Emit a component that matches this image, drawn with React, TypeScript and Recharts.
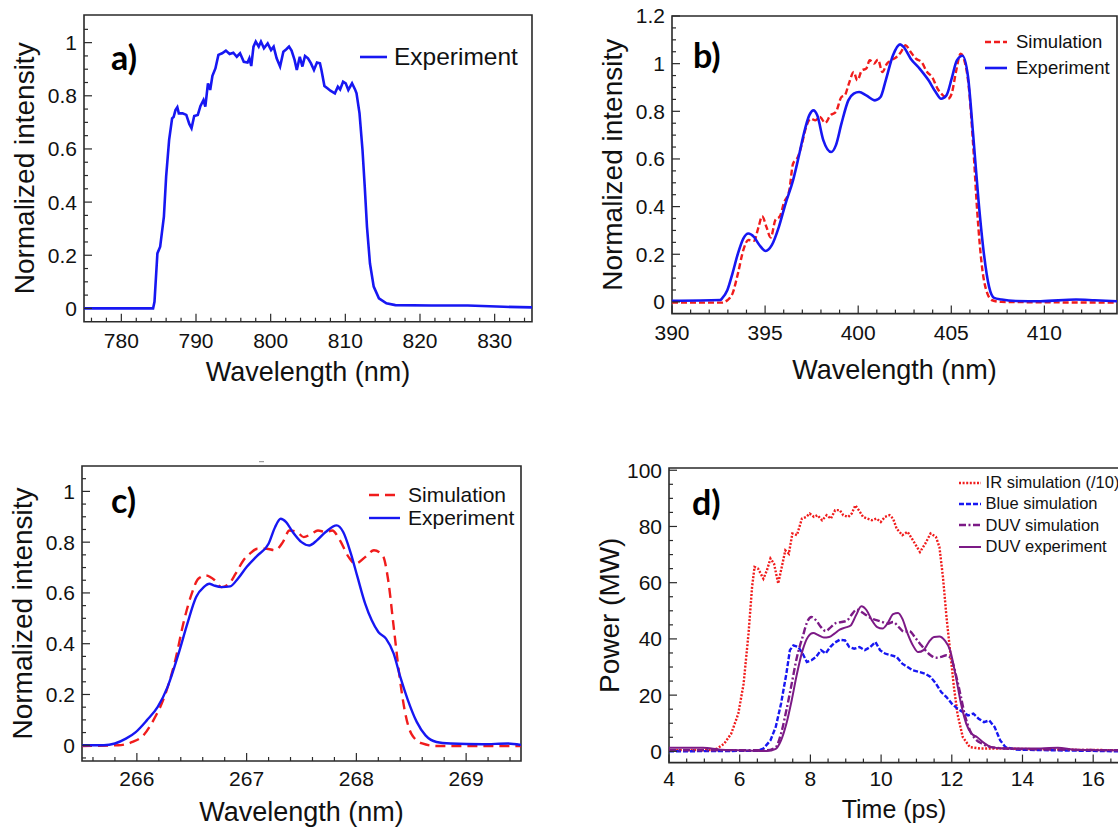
import React from "react";
import { LineChart, Line, XAxis, YAxis, ReferenceArea, Legend } from "recharts";

const FONT = '"Liberation Sans", Arial, Helvetica, sans-serif';
const INK = "#111";
const FRAME = "#2a2a2a";

const RED = "#f01c1c";
const BLUE = "#1717f2";
const PURPLE = "#7c1a86";

// ---- panel a: fundamental IR spectrum ----
const aWavelength = [775, 784.25, 784.44, 784.83, 785.2, 785.7, 786.0, 786.4, 786.8, 787.0, 787.25, 787.5, 787.7, 788.2, 788.7, 789.1, 789.4, 789.76, 790.24, 790.6, 791.0, 791.25, 791.6, 791.9, 792.2, 792.6, 793.0, 793.5, 794.0, 794.5, 795.0, 795.46, 795.9, 796.4, 796.9, 797.15, 797.4, 797.7, 798.0, 798.4, 798.7, 799.1, 799.6, 800.05, 800.4, 800.8, 801.26, 801.7, 802.1, 802.46, 802.8, 803.2, 803.5, 803.9, 804.25, 804.6, 805.0, 805.4, 805.8, 806.2, 806.6, 806.8, 807.2, 807.6, 808.0, 808.6, 809.0, 809.3, 809.7, 810.05, 810.4, 810.9, 811.3, 811.5, 811.9, 812.3, 812.6, 812.9, 813.3, 813.8, 814.5, 815.5, 816.7, 821.5, 826.4, 831.2, 835];
const aExperiment = [0, 0, 0.025, 0.207, 0.232, 0.345, 0.496, 0.634, 0.715, 0.72, 0.746, 0.757, 0.734, 0.734, 0.728, 0.694, 0.678, 0.724, 0.728, 0.762, 0.784, 0.759, 0.847, 0.822, 0.875, 0.903, 0.954, 0.96, 0.97, 0.957, 0.962, 0.947, 0.96, 0.928, 0.925, 0.941, 0.912, 0.985, 1.004, 0.985, 1.004, 0.979, 0.997, 0.972, 0.985, 0.941, 0.91, 0.966, 0.975, 0.985, 0.97, 0.935, 0.897, 0.947, 0.91, 0.95, 0.941, 0.922, 0.897, 0.925, 0.922, 0.897, 0.837, 0.828, 0.819, 0.809, 0.834, 0.824, 0.853, 0.847, 0.822, 0.847, 0.824, 0.809, 0.734, 0.596, 0.458, 0.307, 0.169, 0.082, 0.038, 0.019, 0.0125, 0.011, 0.011, 0.006, 0.004];

// ---- panel b: blue (SHG) spectrum ----
const bExpWavelength = [390, 392.6, 392.68, 392.97, 393.25, 393.54, 393.83, 394.1, 394.4, 394.7, 395.03, 395.36, 395.74, 396.1, 396.5, 396.8, 397.08, 397.37, 397.6, 397.8, 398.13, 398.55, 398.8, 399.1, 399.47, 399.76, 400.05, 400.43, 400.9, 401.2, 401.48, 401.87, 402.25, 402.44, 402.82, 403.3, 403.78, 404.16, 404.45, 404.74, 405.02, 405.3, 405.6, 405.9, 406.17, 406.46, 406.75, 407.03, 407.3, 407.7, 408.47, 409.8, 411.7, 412.7, 413.9];
const bExperiment = [0.005, 0.008, 0.014, 0.049, 0.12, 0.203, 0.266, 0.287, 0.273, 0.238, 0.214, 0.238, 0.315, 0.413, 0.51, 0.608, 0.706, 0.783, 0.804, 0.783, 0.678, 0.629, 0.657, 0.748, 0.846, 0.874, 0.881, 0.867, 0.846, 0.86, 0.93, 1.035, 1.081, 1.07, 1.021, 0.979, 0.93, 0.881, 0.853, 0.867, 0.937, 1.014, 1.033, 0.944, 0.706, 0.427, 0.203, 0.063, 0.017, 0.01, 0.004, 0.003, 0.01, 0.007, 0.003];
const bSimWavelength = [390, 392.7, 392.97, 393.25, 393.54, 393.83, 394.1, 394.4, 394.65, 394.84, 395.07, 395.3, 395.55, 395.8, 396.0, 396.3, 396.5, 396.76, 396.98, 397.2, 397.46, 397.7, 397.94, 398.23, 398.5, 398.8, 399.1, 399.28, 399.5, 399.76, 399.95, 400.2, 400.43, 400.62, 400.85, 401.06, 401.3, 401.54, 401.77, 402.06, 402.3, 402.54, 402.82, 403.1, 403.4, 403.7, 403.97, 404.26, 404.55, 404.83, 405.02, 405.25, 405.5, 405.7, 405.94, 406.17, 406.4, 406.65, 406.94, 407.2, 407.7, 413.9];
const bSimulation = [-0.003, -0.003, 0.007, 0.035, 0.119, 0.217, 0.26, 0.256, 0.315, 0.36, 0.315, 0.27, 0.343, 0.36, 0.413, 0.469, 0.58, 0.608, 0.664, 0.734, 0.769, 0.762, 0.776, 0.751, 0.783, 0.797, 0.86, 0.867, 0.916, 0.965, 0.93, 0.972, 0.979, 1.014, 1.0, 1.017, 0.965, 1.0, 1.014, 1.028, 1.049, 1.077, 1.049, 1.021, 1.007, 0.965, 0.944, 0.895, 0.867, 0.853, 0.874, 0.965, 1.042, 1.014, 0.902, 0.664, 0.371, 0.147, 0.035, 0.007, 0, -0.003];

// ---- panel c: DUV spectrum ----
const cExpWavelength = [265.5, 265.7, 265.8, 265.9, 265.99, 266.09, 266.19, 266.28, 266.38, 266.46, 266.54, 266.61, 266.66, 266.7, 266.77, 266.85, 266.92, 267.0, 267.1, 267.2, 267.26, 267.31, 267.36, 267.42, 267.5, 267.57, 267.64, 267.72, 267.82, 267.88, 267.95, 268.01, 268.08, 268.14, 268.2, 268.27, 268.34, 268.4, 268.47, 268.55, 268.63, 268.73, 268.86, 269.15, 269.38, 269.5];
const cExperiment = [0, 0, 0.007, 0.026, 0.052, 0.098, 0.151, 0.23, 0.361, 0.479, 0.584, 0.623, 0.636, 0.63, 0.623, 0.626, 0.656, 0.702, 0.748, 0.794, 0.86, 0.892, 0.879, 0.84, 0.8, 0.787, 0.807, 0.84, 0.866, 0.84, 0.755, 0.663, 0.558, 0.492, 0.446, 0.42, 0.361, 0.269, 0.177, 0.092, 0.039, 0.013, 0.007, 0.004, 0.007, 0.001];
const cSimWavelength = [265.5, 265.83, 265.96, 266.06, 266.15, 266.25, 266.35, 266.43, 266.5, 266.56, 266.63, 266.71, 266.77, 266.84, 266.9, 266.97, 267.03, 267.1, 267.18, 267.26, 267.33, 267.39, 267.46, 267.52, 267.59, 267.65, 267.72, 267.78, 267.85, 267.93, 267.99, 268.08, 268.16, 268.24, 268.29, 268.34, 268.39, 268.44, 268.5, 268.6, 268.73, 269.5];
const cSimulation = [-0.003, 0, 0.013, 0.039, 0.098, 0.19, 0.335, 0.492, 0.597, 0.656, 0.669, 0.65, 0.623, 0.636, 0.676, 0.728, 0.755, 0.774, 0.774, 0.768, 0.8, 0.846, 0.84, 0.82, 0.833, 0.846, 0.84, 0.846, 0.807, 0.741, 0.715, 0.741, 0.768, 0.748, 0.65, 0.466, 0.282, 0.138, 0.046, 0.007, -0.003, -0.003];

// ---- panel d: temporal power ----
const dIrTime = [4, 5.2, 5.36, 5.56, 5.76, 5.96, 6.11, 6.25, 6.35, 6.42, 6.52, 6.67, 6.77, 6.87, 6.97, 7.09, 7.19, 7.29, 7.39, 7.49, 7.62, 7.76, 7.88, 7.98, 8.1, 8.2, 8.33, 8.46, 8.58, 8.7, 8.83, 8.93, 9.07, 9.17, 9.27, 9.37, 9.49, 9.61, 9.74, 9.87, 9.99, 10.11, 10.24, 10.34, 10.44, 10.6, 10.75, 10.9, 11.1, 11.25, 11.4, 11.55, 11.65, 11.75, 11.85, 11.96, 12.06, 12.16, 12.31, 12.51, 12.81, 13.5, 15.0, 16.73];
const dIrPower = [0.4, 0.5, 1, 2.7, 6.3, 13.4, 24, 42, 58.5, 65.6, 65, 61.4, 64.4, 68.6, 66.8, 59.7, 65.6, 71.5, 70.3, 77.5, 76.9, 82.8, 83.4, 84.6, 83.4, 84, 82.2, 84, 82.8, 85.8, 85.8, 84, 83.4, 84.6, 87.5, 85.8, 83.4, 82.8, 82.2, 82.8, 81.6, 83.4, 84, 82.8, 79.2, 76.9, 78.1, 75.1, 70.9, 73.9, 77.5, 76.3, 72.7, 62, 47.8, 34.8, 22.9, 13.4, 5.1, 1.5, 1, 1, 0.6, 0.4];
const dBlueTime = [4, 6.5, 6.67, 6.87, 7.02, 7.17, 7.32, 7.42, 7.52, 7.66, 7.78, 7.9, 8.03, 8.16, 8.3, 8.43, 8.56, 8.68, 8.83, 8.98, 9.1, 9.24, 9.39, 9.54, 9.69, 9.84, 9.97, 10.11, 10.27, 10.44, 10.6, 10.75, 10.9, 11.1, 11.25, 11.4, 11.55, 11.7, 11.85, 12.0, 12.16, 12.31, 12.46, 12.61, 12.76, 12.91, 13.06, 13.21, 13.37, 13.52, 13.82, 16.73];
const dBluePower = [0, 0.2, 1, 3.9, 8.7, 17, 27.6, 36, 37.7, 37.1, 34.8, 31.8, 32.4, 33.6, 36, 34.8, 37.1, 38.6, 39.7, 39.5, 37.1, 36.5, 37.1, 36, 37.1, 38.9, 36, 34.8, 34.2, 33.6, 31.2, 30, 28.8, 28.2, 27.6, 26.5, 24.1, 21.1, 19.3, 17, 15.2, 14, 12.8, 13.4, 11.6, 10.4, 11, 8.7, 3.9, 1.5, 0.6, 0];
const dDuvSimTime = [4, 6.77, 7.02, 7.17, 7.32, 7.47, 7.62, 7.78, 7.93, 8.03, 8.16, 8.3, 8.43, 8.58, 8.73, 8.88, 9.04, 9.19, 9.3, 9.44, 9.59, 9.74, 9.89, 10.04, 10.19, 10.34, 10.5, 10.65, 10.8, 10.95, 11.1, 11.25, 11.4, 11.55, 11.7, 11.85, 12.0, 12.13, 12.26, 12.36, 12.51, 12.66, 12.86, 13.11, 13.52, 15.0, 16.73];
const dDuvSimPower = [0.4, 0.4, 1.5, 6.3, 14.6, 24, 33.6, 40.7, 46.6, 47.8, 46.6, 44.2, 42.8, 44.2, 45.7, 46, 46.6, 49, 50.4, 49.6, 48.4, 47.2, 46.6, 46, 45.4, 46, 44.2, 42.5, 42.8, 40.7, 38.3, 36, 34.2, 33.3, 33.6, 34.2, 32.4, 26.5, 19.3, 13.4, 7.5, 4.5, 2.7, 1.5, 1, 0.6, 0.4];
const dDuvExpTime = [4, 4.96, 5.46, 5.96, 6.77, 7.02, 7.17, 7.32, 7.47, 7.62, 7.78, 7.93, 8.08, 8.23, 8.38, 8.53, 8.68, 8.83, 8.98, 9.14, 9.29, 9.44, 9.59, 9.74, 9.89, 10.04, 10.19, 10.34, 10.48, 10.6, 10.75, 10.9, 11.05, 11.2, 11.35, 11.5, 11.65, 11.8, 11.95, 12.1, 12.26, 12.41, 12.56, 12.71, 12.91, 13.11, 13.52, 14.52, 15.0, 15.5, 16.73];
const dDuvExpPower = [1.3, 1.3, 0.6, 0.4, 0.1, 0.9, 3.9, 9.8, 18.1, 27.6, 36, 40.7, 42.1, 41.3, 40.5, 40.7, 41.9, 43.3, 44, 44.8, 48.4, 51.6, 50.2, 46.6, 44.2, 43.7, 45.7, 48.8, 49.2, 47.2, 41.9, 37.7, 35.3, 36, 38.9, 40.7, 40.9, 39.5, 36, 27.6, 17, 9.8, 6.3, 5.1, 3, 1.5, 1, 1, 1.3, 0.6, 0.4];

// tick labels
const aXTicks = [780, 790, 800, 810, 820, 830];
const aYTicks = [0, 0.2, 0.4, 0.6, 0.8, 1];
const bXTicks = [390, 395, 400, 405, 410];
const bYTicks = [0, 0.2, 0.4, 0.6, 0.8, 1, 1.2];
const cXTicks = [266, 267, 268, 269];
const cYTicks = [0, 0.2, 0.4, 0.6, 0.8, 1];
const dXTicks = [4, 6, 8, 10, 12, 14, 16];
const dYTicks = [0, 20, 40, 60, 80, 100];

const steps = (from: number, to: number, step: number) => {
  const out: number[] = [];
  const n = Math.round((to - from) / step);
  for (let i = 0; i <= n; i++) out.push(Math.round((from + i * step) * 1000) / 1000);
  return out;
};

const zip = (xs: number[], ys: number[]) => xs.map((x, i) => ({ x, y: ys[i] }));

type Series = {
  name: string;
  xs: number[];
  ys: number[];
  color: string;
  width: number;
  dash?: string;
  curve: "linear" | "monotone";
};

type PanelCfg = {
  id: string;
  plotLeft: number;
  plotTop: number;
  plotW: number;
  plotH: number;
  xDomain: [number, number];
  yDomain: [number, number];
  xMajor: number[];
  xMinor: number[];
  yMajor: number[];
  yMinor: number[];
  xTitle: string;
  yTitle: string;
  xTitleOffset: number;
  xTitleSize: number;
  xTickDy: number;
  series: Series[];
  legend: { x: number; y: number; lineLen: number; gap: number; fontSize: number; rowH: number };
};

const panels: PanelCfg[] = [
  {
    id: "a",
    plotLeft: 84,
    plotTop: 15,
    plotW: 448,
    plotH: 306.7,
    xDomain: [775, 835],
    yDomain: [-0.05, 1.104],
    xMajor: aXTicks,
    xMinor: steps(776, 834, 2),
    yMajor: aYTicks,
    yMinor: steps(0, 1.05, 0.05),
    xTitle: "Wavelength (nm)",
    yTitle: "Normalized intensity",
    xTitleOffset: 40,
    xTitleSize: 27,
    xTickDy: 26.5,
    series: [
      { name: "Experiment", xs: aWavelength, ys: aExperiment, color: BLUE, width: 2.6, curve: "linear" },
    ],
    legend: { x: 360, y: 57, lineLen: 27, gap: 7, fontSize: 24.5, rowH: 28 },
  },
  {
    id: "b",
    plotLeft: 672,
    plotTop: 15.7,
    plotW: 445,
    plotH: 297.6,
    xDomain: [390, 413.9],
    yDomain: [-0.049, 1.2],
    xMajor: bXTicks,
    xMinor: steps(391, 413, 1),
    yMajor: bYTicks,
    yMinor: steps(0, 1.2, 0.05),
    xTitle: "Wavelength (nm)",
    yTitle: "Normalized intensity",
    xTitleOffset: 46,
    xTitleSize: 27,
    xTickDy: 26.5,
    series: [
      { name: "Simulation", xs: bSimWavelength, ys: bSimulation, color: RED, width: 2.4, dash: "6 3", curve: "monotone" },
      { name: "Experiment", xs: bExpWavelength, ys: bExperiment, color: BLUE, width: 2.6, curve: "monotone" },
    ],
    legend: { x: 985, y: 41.7, lineLen: 22, gap: 9, fontSize: 18.5, rowH: 26 },
  },
  {
    id: "c",
    plotLeft: 82,
    plotTop: 465.7,
    plotW: 439,
    plotH: 295,
    xDomain: [265.5, 269.5],
    yDomain: [-0.062, 1.1],
    xMajor: cXTicks,
    xMinor: steps(265.6, 269.4, 0.2),
    yMajor: cYTicks,
    yMinor: steps(-0.05, 1.05, 0.05),
    xTitle: "Wavelength (nm)",
    yTitle: "Normalized intensity",
    xTitleOffset: 41,
    xTitleSize: 27,
    xTickDy: 24.5,
    series: [
      { name: "Simulation", xs: cSimWavelength, ys: cSimulation, color: RED, width: 2.4, dash: "10 6", curve: "monotone" },
      { name: "Experiment", xs: cExpWavelength, ys: cExperiment, color: BLUE, width: 2.4, curve: "monotone" },
    ],
    legend: { x: 369, y: 495, lineLen: 31, gap: 8, fontSize: 21, rowH: 23.3 },
  },
  {
    id: "d",
    plotLeft: 668.5,
    plotTop: 467.7,
    plotW: 450,
    plotH: 294.6,
    xDomain: [4, 16.73],
    yDomain: [-4, 100.8],
    xMajor: dXTicks,
    xMinor: steps(4.5, 16.5, 0.5),
    yMajor: dYTicks,
    yMinor: steps(0, 100, 5),
    xTitle: "Time (ps)",
    yTitle: "Power (MW)",
    xTitleOffset: 38,
    xTitleSize: 25,
    xTickDy: 23,
    series: [
      { name: "IR simulation (/10)", xs: dIrTime, ys: dIrPower, color: RED, width: 2.4, dash: "2 1.6", curve: "linear" },
      { name: "Blue simulation", xs: dBlueTime, ys: dBluePower, color: BLUE, width: 2.4, dash: "5 2", curve: "linear" },
      { name: "DUV simulation", xs: dDuvSimTime, ys: dDuvSimPower, color: PURPLE, width: 2.4, dash: "7 2.5 2 2.5", curve: "monotone" },
      { name: "DUV experiment", xs: dDuvExpTime, ys: dDuvExpPower, color: PURPLE, width: 2, curve: "monotone" },
    ],
    legend: { x: 958.6, y: 482.7, lineLen: 22, gap: 5, fontSize: 16.5, rowH: 21.3 },
  },
];

const isMajor = (majors: number[], v: number) => majors.some((m) => Math.abs(m - v) < 1e-6);

const xTick = (majors: number[], dy: number) => (props: any) => {
  const { x, y, payload } = props;
  const major = isMajor(majors, payload.value);
  return (
    <g>
      <line x1={x} x2={x} y1={y} y2={y - (major ? 8 : 4)} stroke={FRAME} strokeWidth={1.2} />
      {major ? (
        <text x={x} y={y + dy} textAnchor="middle" fontSize={21} fontFamily={FONT} fill={INK}>
          {String(payload.value)}
        </text>
      ) : null}
    </g>
  );
};

const yTick = (majors: number[]) => (props: any) => {
  const { x, y, payload } = props;
  const major = isMajor(majors, payload.value);
  return (
    <g>
      <line x1={x} x2={x + (major ? 8 : 4)} y1={y} y2={y} stroke={FRAME} strokeWidth={1.2} />
      {major ? (
        <text x={x - 7} y={y + 7.5} textAnchor="end" fontSize={21} fontFamily={FONT} fill={INK}>
          {String(payload.value)}
        </text>
      ) : null}
    </g>
  );
};

function LegendBox({ items, lineLen, gap, fontSize, rowH }: { items: Series[]; lineLen: number; gap: number; fontSize: number; rowH: number }) {
  return (
    <div style={{ fontFamily: FONT, fontSize, color: INK }}>
      {items.map((s) => (
        <div key={s.name} style={{ display: "flex", alignItems: "center", height: rowH, whiteSpace: "nowrap" }}>
          <svg width={lineLen} height={10} style={{ flex: "none" }}>
            <line x1={0} y1={5} x2={lineLen} y2={5} stroke={s.color} strokeWidth={s.width} strokeDasharray={s.dash} />
          </svg>
          <span style={{ marginLeft: gap }}>{s.name}</span>
        </div>
      ))}
    </div>
  );
}

const ML = 90;
const MT = 20;
const MR = 10;
const HX = 80;

function Panel({ cfg }: { cfg: PanelCfg }) {
  const left = cfg.plotLeft - ML;
  const top = cfg.plotTop - MT;
  const width = ML + cfg.plotW + MR;
  const height = MT + cfg.plotH + HX;
  const xTicks = [...new Set([...cfg.xMajor, ...cfg.xMinor])].sort((p, q) => p - q);
  const yTicks = [...new Set([...cfg.yMajor, ...cfg.yMinor])].sort((p, q) => p - q);
  const lg = cfg.legend;
  return (
    <div style={{ position: "absolute", left, top }}>
      <LineChart width={width} height={height} margin={{ top: MT, right: MR, bottom: 0, left: 0 }}>
        <XAxis
          type="number"
          dataKey="x"
          domain={cfg.xDomain}
          allowDataOverflow
          ticks={xTicks}
          interval={0}
          tickSize={0}
          tickMargin={0}
          tickLine={false}
          axisLine={false}
          height={HX}
          tick={xTick(cfg.xMajor, cfg.xTickDy)}
          label={{
            value: cfg.xTitle,
            position: "insideTop",
            offset: cfg.xTitleOffset,
            style: { fontSize: cfg.xTitleSize, fontFamily: FONT, fill: INK },
          }}
        />
        <YAxis
          type="number"
          domain={cfg.yDomain}
          allowDataOverflow
          ticks={yTicks}
          interval={0}
          tickSize={0}
          tickMargin={0}
          tickLine={false}
          axisLine={false}
          width={ML}
          tick={yTick(cfg.yMajor)}
          label={{
            value: cfg.yTitle,
            angle: -90,
            position: "insideLeft",
            offset: 30,
            style: { textAnchor: "middle", fontSize: 28, fontFamily: FONT, fill: INK },
          }}
        />
        <ReferenceArea
          x1={cfg.xDomain[0]}
          x2={cfg.xDomain[1]}
          y1={cfg.yDomain[0]}
          y2={cfg.yDomain[1]}
          fill="none"
          stroke={FRAME}
          strokeWidth={1.6}
          ifOverflow="visible"
        />
        {cfg.series.map((s) => (
          <Line
            key={s.name}
            name={s.name}
            data={zip(s.xs, s.ys)}
            dataKey="y"
            type={s.curve}
            stroke={s.color}
            strokeWidth={s.width}
            strokeDasharray={s.dash}
            dot={false}
            activeDot={false}
            isAnimationActive={false}
          />
        ))}
        <Legend
          layout="vertical"
          align="center"
          verticalAlign="middle"
          wrapperStyle={{ left: lg.x - left, top: lg.y - lg.rowH / 2 - top, width: 320 }}
          content={() => <LegendBox items={cfg.series} lineLen={lg.lineLen} gap={lg.gap} fontSize={lg.fontSize} rowH={lg.rowH} />}
        />
      </LineChart>
    </div>
  );
}

const panelLabels = [
  { text: "a)", x: 111, y: 70 },
  { text: "b)", x: 693, y: 68.3 },
  { text: "c)", x: 111, y: 513.3 },
  { text: "d)", x: 692, y: 515 },
];

export default function App() {
  return (
    <div
      style={{
        position: "fixed",
        left: 0,
        top: 0,
        width: 1118,
        height: 827,
        overflow: "hidden",
        background: "#fff",
        fontFamily: FONT,
      }}
    >
      {panels.map((p) => (
        <Panel key={p.id} cfg={p} />
      ))}
      <svg width={1118} height={827} style={{ position: "absolute", left: 0, top: 0, pointerEvents: "none" }}>
        {panelLabels.map((l) => (
          <text key={l.text} x={l.x} y={l.y} fontFamily="Lato, 'Open Sans', sans-serif" fontWeight={700} fontSize={34} fill="#000">
            {l.text}
          </text>
        ))}
        <line x1={259} x2={264} y1={461.7} y2={461.7} stroke="#888" strokeWidth={1} />
      </svg>
    </div>
  );
}
